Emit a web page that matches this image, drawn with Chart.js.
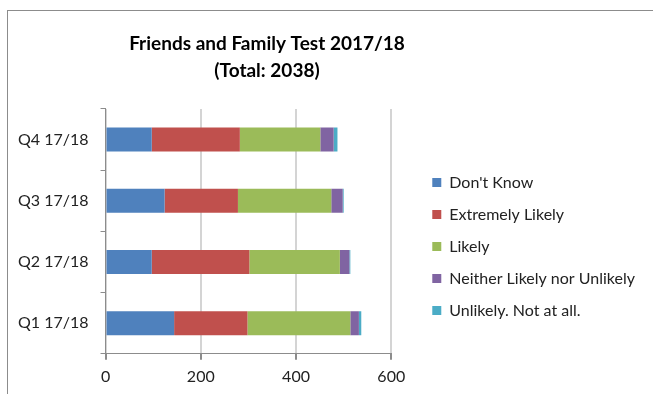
<!DOCTYPE html>
<html>
<head>
<meta charset="utf-8">
<script src="https://cdn.jsdelivr.net/npm/chart.js@4"></script>
<style>
html,body{margin:0;padding:0;background:#fff;}
#wrap{position:relative;width:653px;height:394px;}
#frame{position:absolute;left:7px;top:10px;width:660px;height:400px;border-left:1px solid #8c8c8c;border-top:1px solid #8c8c8c;box-sizing:border-box;}
canvas{position:absolute;left:0;top:0;}
</style>
</head>
<body>
<div id="wrap">
<div id="frame"></div>
<canvas id="c" width="653" height="394"></canvas>
</div>
<script>
const categories = ["Q4 17/18", "Q3 17/18", "Q2 17/18", "Q1 17/18"];
const dontKnow = [97, 124, 97, 144];
const extremelyLikely = [185, 154, 205, 154];
const likely = [169, 196, 190, 216];
const neither = [28, 24, 20, 18];
const unlikely = [8, 2, 2, 5];
const seriesNames = ["Don't Know", "Extremely Likely", "Likely", "Neither Likely nor Unlikely", "Unlikely. Not at all."];
const colors = ["#4f81bd", "#c0504d", "#9bbb59", "#8064a2", "#4bacc6"];
const xTicks = [0, 200, 400, 600];

const seriesData = [dontKnow, extremelyLikely, likely, neither, unlikely];
const fontFamily = "Lato, 'Open Sans', sans-serif";

const tweak = {
  id: 'tweak',
  afterLayout(chart) {
    const t = chart.titleBlock;
    if (t) { t.left = 7; t.right = 527; t.width = 520; }
    const l = chart.legend;
    if (l) {
      const dx = 25, dy = 45;
      l.left += dx; l.right += dx; l.top += dy; l.bottom += dy;
    }
  }
};

new Chart(document.getElementById('c'), {
  type: 'bar',
  data: {
    labels: categories,
    datasets: seriesData.map((d, i) => ({
      label: seriesNames[i],
      data: d,
      backgroundColor: colors[i],
      borderWidth: 0,
      categoryPercentage: 0.8,
      barPercentage: 0.49
    }))
  },
  plugins: [tweak],
  options: {
    indexAxis: 'y',
    responsive: false,
    animation: false,
    layout: {padding: {left: 6, right: 33, top: 10, bottom: 1}},
    plugins: {
      title: {
        display: true,
        text: ["Friends and Family Test 2017/18", "(Total: 2038)"],
        font: {family: fontFamily, size: 19, weight: 'bold', lineHeight: 1.42},
        color: '#000',
        padding: {top: 20, bottom: 25}
      },
      legend: {
        position: 'right',
        align: 'center',
        maxWidth: 300,
        labels: {
          font: {family: fontFamily, size: 16},
          color: '#222',
          boxWidth: 9,
          boxHeight: 9,
          padding: 16
        }
      },
      tooltip: {enabled: false}
    },
    scales: {
      x: {
        stacked: true,
        min: 0,
        max: 600,
        afterBuildTicks: (axis) => { axis.ticks = xTicks.map(v => ({value: v})); },
        ticks: {font: {family: fontFamily, size: 16}, color: '#222', padding: 7},
        grid: {color: '#d4d4d4', lineWidth: 2, tickLength: 6, tickColor: '#8c8c8c'},
        border: {display: true, color: '#8c8c8c', width: 1}
      },
      y: {
        stacked: true,
        ticks: {font: {family: fontFamily, size: 16}, color: '#222', padding: 12},
        grid: {display: true, drawOnChartArea: false, offset: true, tickLength: 5, color: '#8c8c8c'},
        border: {display: true, color: '#8c8c8c', width: 1}
      }
    }
  }
});
</script>
</body>
</html>
